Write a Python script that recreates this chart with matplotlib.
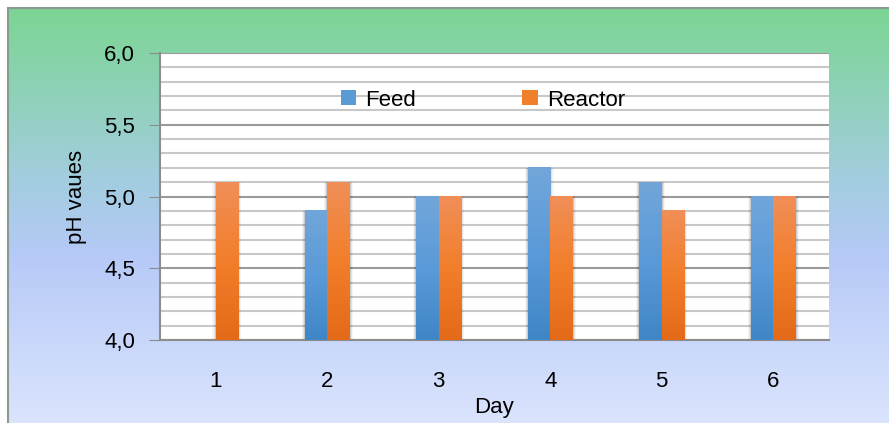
import matplotlib
matplotlib.use("Agg")
import matplotlib.pyplot as plt
import numpy as np
from matplotlib.colors import LinearSegmentedColormap
from matplotlib.patches import Rectangle

# data
days = [1, 2, 3, 4, 5, 6]
feed = [np.nan, 4.9, 5.0, 5.2, 5.1, 5.0]
reactor = [5.1, 5.1, 5.0, 5.0, 4.9, 5.0]
day_labels = ['1', '2', '3', '4', '5', '6']

plt.rcParams['font.family'] = ['Liberation Sans', 'DejaVu Sans']

fig = plt.figure(figsize=(8.89, 4.23), dpi=100)
fig.patch.set_facecolor('white')

# chart area gradient background (green at top, pale blue at bottom)
bg = fig.add_axes([8 / 889, 0, 1 - 8 / 889, 1 - 8 / 423])
bg_cmap = LinearSegmentedColormap.from_list(
    'bg', [(0.0, '#7bd592'), (0.42, '#a3cde0'), (0.6, '#b6c9f7'), (1.0, '#dbe4fd')])
grad = np.linspace(0, 1, 256).reshape(-1, 1)
bg.imshow(grad, cmap=bg_cmap, aspect='auto', extent=[0, 1, 0, 1], origin='upper')
bg.set_xlim(0, 1)
bg.set_ylim(0, 1)
bg.set_xticks([])
bg.set_yticks([])
for side, s in bg.spines.items():
    s.set_color('#8a9a8f')
    s.set_linewidth(1.5)
    if side in ('right', 'bottom'):
        s.set_visible(False)

ax = fig.add_axes([160 / 889, 1 - 340 / 423, 669 / 889, 287 / 423])
ax.set_facecolor('white')

x = np.array(days, dtype=float)
w = 0.2
b1 = ax.bar(x - w / 2, np.array(feed) - 4.0, w, bottom=4.0, color='#5b9bd5', label='Feed', zorder=3)
b2 = ax.bar(x + w / 2, np.array(reactor) - 4.0, w, bottom=4.0, color='#f07f2c', label='Reactor', zorder=3)

# gradient fills and soft shadows on the bars (darker at the base)
feed_cmap = LinearSegmentedColormap.from_list('f', ['#3f86c6', '#5a9ad8', '#72a6da'])
reac_cmap = LinearSegmentedColormap.from_list('r', ['#e36a18', '#f27e2a', '#f08f58'])
for bars, cm in ((b1, feed_cmap), (b2, reac_cmap)):
    for bar in bars:
        h = bar.get_height()
        if not np.isfinite(h) or h <= 0:
            continue
        x0, y0, bw = bar.get_x(), bar.get_y(), bar.get_width()
        for k, a in enumerate([0.10, 0.07, 0.04]):
            ax.add_patch(Rectangle((x0 - 0.01 * (k + 1), y0 - 0.012 * (k + 1)), bw + 0.02 * (k + 1),
                                   h + 0.012 * (k + 1), color='black', alpha=a, lw=0, zorder=2))
        ax.imshow(grad, cmap=cm, aspect='auto', extent=[x0, x0 + bw, y0, y0 + h],
                  origin='lower', zorder=4)

ax.set_xlim(0.5, 6.5)
ax.set_ylim(4.0, 6.0)
ax.set_yticks([4.0, 4.5, 5.0, 5.5, 6.0])
ax.set_yticklabels(['4,0', '4,5', '5,0', '5,5', '6,0'], fontsize=16)
ax.set_yticks(np.arange(4.0, 6.001, 0.1), minor=True)
ax.set_xticks(x)
ax.set_xticklabels(day_labels, fontsize=16)
ax.tick_params(axis='x', length=0, pad=22)
ax.tick_params(axis='y', which='major', length=8, color='#8c8c8c', pad=10)
ax.tick_params(axis='y', which='minor', length=0)
ax.grid(True, axis='y', which='minor', color='#c8c8c8', lw=1.5, zorder=0)
ax.grid(True, axis='y', which='major', color='#9a9a9a', lw=1.5, zorder=0)
ax.set_axisbelow(True)
for side in ('top', 'right'):
    ax.spines[side].set_visible(False)
ax.spines['left'].set_color('#8c8c8c')
ax.spines['bottom'].set_color('#8c8c8c')
ax.spines['left'].set_linewidth(1.5)
ax.spines['bottom'].set_linewidth(1.5)

ax.set_xlabel('Day', fontsize=16, labelpad=4)
ax.set_ylabel('pH vaues', fontsize=16, labelpad=12)

fig.legend(handles=[b1, b2], loc='center', bbox_to_anchor=(0.543, 1 - 100 / 423),
           ncol=2, frameon=False, fontsize=16, handlelength=0.7, handleheight=0.7,
           handletextpad=0.4, columnspacing=4.8)

fig.savefig('out.png', dpi=100)
